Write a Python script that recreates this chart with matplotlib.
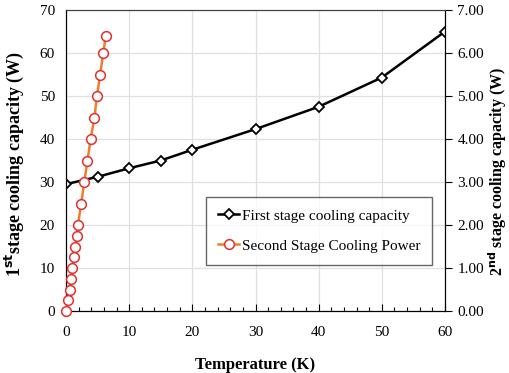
import matplotlib.pyplot as plt
from matplotlib.ticker import MultipleLocator, FormatStrFormatter

plt.rcParams['font.family'] = ['Liberation Serif', 'DejaVu Serif']

# first stage (left axis)
temp_1st = [0, 5, 10, 15, 20, 30, 40, 50, 60]
cap_1st = [29.5, 31.2, 33.2, 35.0, 37.5, 42.3, 47.5, 54.3, 65.0]

# second stage (right axis)
temp_2nd = [0, 0.36, 0.57, 0.84, 1.0, 1.27, 1.5, 1.7, 1.9, 2.4, 2.9,
            3.4, 3.9, 4.5, 4.9, 5.4, 5.9, 6.3]
cap_2nd = [0, 0.25, 0.5, 0.75, 1.0, 1.25, 1.5, 1.75, 2.0, 2.5, 3.0,
           3.5, 4.0, 4.5, 5.0, 5.5, 6.0, 6.4]

fig = plt.figure(figsize=(5.09, 3.73), dpi=100)
ax = fig.add_axes([66 / 509, 1 - 311 / 373, (445 - 66) / 509, (311 - 10) / 373])
ax2 = ax.twinx()

l1, = ax.plot(temp_1st, cap_1st, color='black', lw=1.8, marker='D', ms=5.5,
              mfc='white', mec='black', mew=1.3, label='First stage cooling capacity')
l2, = ax2.plot(temp_2nd, cap_2nd, color='#ef7d2f', lw=1.8, marker='o', ms=7,
               mfc='white', mec='#e03030', mew=1.1, label='Second Stage Cooling Power',
               clip_on=False, zorder=5)

ax.set_xlim(0, 60)
ax.set_ylim(0, 70)
ax2.set_ylim(0, 7)
ax.xaxis.set_major_locator(MultipleLocator(10))
ax.xaxis.set_minor_locator(MultipleLocator(2))
ax.yaxis.set_major_locator(MultipleLocator(10))
ax2.yaxis.set_major_locator(MultipleLocator(1))
ax2.yaxis.set_major_formatter(FormatStrFormatter('%.2f'))

ax.grid(True, color='#e0e0e0', lw=0.9)
ax.set_axisbelow(True)

ax.tick_params(axis='x', which='major', direction='in', length=5, labelsize=11, pad=11, width=0.8)
ax.tick_params(axis='x', which='minor', direction='in', length=3, width=0.8)
ax.tick_params(axis='y', length=0, labelsize=11, pad=8)
ax2.tick_params(axis='y', direction='out', length=5, labelsize=11, pad=4)

for sp in ['left', 'bottom', 'right']:
    ax.spines[sp].set_color('black')
    ax2.spines[sp].set_color('black')
ax.spines['top'].set_color('#404040')
ax2.spines['top'].set_color('#404040')

ax.set_xlabel('Temperature (K)', fontsize=12, fontweight='bold', labelpad=13)
ax.set_ylabel(r'1$^{\mathbf{st}}$stage cooling capacity (W)', fontsize=13,
              fontweight='bold')
ax2.set_ylabel(r'2$^{\mathbf{nd}}$ stage cooling capacity (W)', fontsize=11.5,
               fontweight='bold', rotation=90)
ax.yaxis.set_label_coords(-0.106, 0.488)
ax2.yaxis.set_label_coords(1.108, 0.462)

leg = ax2.legend(handles=[l1, l2], loc='upper left', bbox_to_anchor=(0.369, 0.379),
                 borderaxespad=0, fontsize=11, frameon=True, fancybox=False,
                 edgecolor='#404040', handlelength=1.4, handletextpad=0.15,
                 borderpad=0.8, labelspacing=1.05)
leg.get_frame().set_linewidth(1.0)

fig.savefig('out.png', dpi=100)
